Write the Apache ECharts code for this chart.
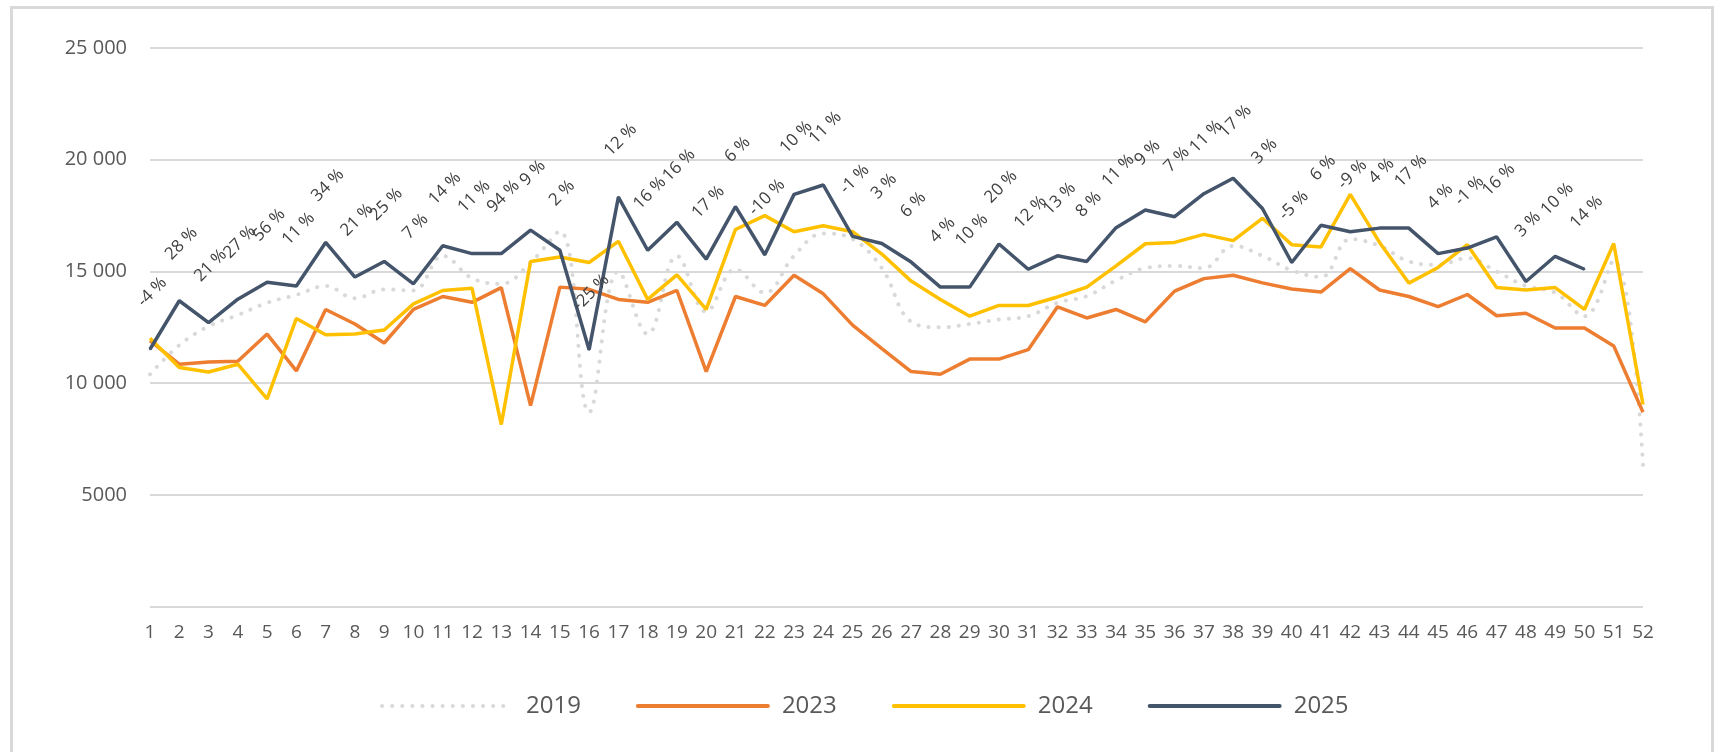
<!DOCTYPE html>
<html>
<head>
<meta charset="utf-8">
<script src="https://cdn.jsdelivr.net/npm/echarts@6/dist/echarts.min.js"></script>
<style>
  html, body { margin: 0; padding: 0; background: #ffffff; }
  #chart { width: 1717px; height: 752px; }
</style>
</head>
<body>
<div id="chart"></div>
<script>
// Week numbers on the category axis
const weeks = ['1','2','3','4','5','6','7','8','9','10','11','12','13','14','15','16','17','18','19','20',
  '21','22','23','24','25','26','27','28','29','30','31','32','33','34','35','36','37','38','39','40',
  '41','42','43','44','45','46','47','48','49','50','51','52'];

// Value-axis tick labels, from 0 up to 25 000
const yTickLabels = ['', '5000', '10 000', '15 000', '20 000', '25 000'];

// Weekly volumes per year
const s2019 = [10400, 11700, 12550, 13050, 13600, 13950, 14350, 13800, 14200, 14150,
  15700, 14700, 14450, 15400, 16800, 8700, 15000, 12200, 15700, 13200,
  15100, 14050, 15700, 16700, 16450, 15150, 12750, 12500, 12650, 12850,
  13000, 13600, 13900, 14600, 15150, 15250, 15150, 16150, 15700, 15050,
  14750, 16450, 16150, 15450, 15300, 15600, 15000, 14350, 14050, 13000,
  15500, 6350];

const s2023 = [11900, 10850, 10950, 10980, 12200, 10550, 13300, 12650, 11800, 13300,
  13880, 13620, 14280, 9000, 14300, 14200, 13750, 13620, 14150, 10520,
  13880, 13480, 14830, 14000, 12600, 11550, 10520, 10400, 11080, 11080,
  11500, 13420, 12920, 13300, 12750, 14120, 14680, 14830, 14490, 14220,
  14080, 15130, 14170, 13880, 13430, 13970, 13020, 13130, 12470, 12470,
  11670, 8700];

const s2024 = [12010, 10700, 10500, 10850, 9300, 12900, 12170, 12200, 12380, 13550,
  14150, 14250, 8150, 15450, 15650, 15400, 16350, 13750, 14850, 13300,
  16880, 17500, 16780, 17050, 16780, 15780, 14570, 13750, 13000, 13480,
  13480, 13860, 14300, 15250, 16240, 16300, 16660, 16380, 17380, 16200,
  16100, 18450, 16300, 14480, 15180, 16200, 14280, 14170, 14280, 13300,
  16250, 9050];

const s2025 = [11520, 13690, 12710, 13760, 14520, 14350, 16300, 14750, 15450, 14450,
  16150, 15800, 15800, 16850, 15950, 11500, 18330, 15950, 17200, 15550,
  17900, 15750, 18450, 18870, 16570, 16250, 15420, 14300, 14300, 16230,
  15100, 15700, 15450, 16960, 17750, 17450, 18480, 19170, 17820, 15400,
  17070, 16780, 16940, 16940, 15800, 16050, 16550, 14550, 15680, 15100,
  null, null];

// Change of 2025 against the same week of 2024
const changeLabels = ['-4 %','28 %','21 %','27 %','56 %','11 %','34 %','21 %','25 %','7 %',
  '14 %','11 %','94 %','9 %','2 %','-25 %','12 %','16 %','16 %','17 %',
  '6 %','-10 %','10 %','11 %','-1 %','3 %','6 %','4 %','10 %','20 %',
  '12 %','13 %','8 %','11 %','9 %','7 %','11 %','17 %','3 %','-5 %',
  '6 %','-9 %','4 %','17 %','4 %','-1 %','16 %','3 %','10 %','14 %'];

const FONT = "'Open Sans', 'Liberation Sans', sans-serif";
const C2019 = '#d9d9d9', C2023 = '#ed7d31', C2024 = '#ffc000', C2025 = '#44546a';

const chart = echarts.init(document.getElementById('chart'), null, { renderer: 'canvas' });

chart.setOption({
  animation: false,
  backgroundColor: '#ffffff',
  graphic: [{
    type: 'rect',
    left: 9, top: 5,
    shape: { width: 1701, height: 820 },
    style: { fill: 'none', stroke: '#d9d9d9', lineWidth: 3 },
    silent: true,
    z: -10
  }],
  grid: { left: 150, right: 74, top: 48, bottom: 145.3, containLabel: false },
  legend: {
    left: 375, top: 689,
    itemWidth: 130, itemHeight: 24, itemGap: 55,
    itemStyle: { opacity: 0 },
    lineStyle: { width: 4, cap: 'round' },
    textStyle: { fontSize: 24, color: '#595959', fontFamily: FONT, padding: [0, 0, 0, 9] },
    data: ['2019', '2023', '2024', '2025']
  },
  xAxis: {
    type: 'category',
    data: weeks,
    boundaryGap: false,
    axisLine: { show: false },
    axisTick: { show: false },
    splitLine: { show: false },
    axisLabel: { interval: 0, margin: 16, fontSize: 19, color: '#595959', fontFamily: FONT }
  },
  yAxis: {
    type: 'value',
    min: 0, max: 25000, interval: 5000,
    axisLine: { show: false },
    axisTick: { show: false },
    splitLine: { lineStyle: { color: '#d9d9d9', width: 2 } },
    axisLabel: {
      margin: 23, fontSize: 20, color: '#595959', fontFamily: FONT,
      formatter: v => yTickLabels[Math.round(v / 5000)]
    }
  },
  series: [
    {
      name: '2019', type: 'line', data: s2019,
      smooth: 0.4, symbol: 'none',
      lineStyle: { color: C2019, width: 4, type: [0.1, 10], cap: 'round' },
      itemStyle: { color: C2019 },
      z: 1
    },
    {
      name: '2023', type: 'line', data: s2023,
      symbol: 'none',
      lineStyle: { color: C2023, width: 3.5 },
      itemStyle: { color: C2023 },
      z: 2
    },
    {
      name: '2024', type: 'line', data: s2024,
      symbol: 'none',
      lineStyle: { color: C2024, width: 3.5 },
      itemStyle: { color: C2024 },
      z: 3
    },
    {
      name: '2025', type: 'line', data: s2025,
      symbol: 'circle', symbolSize: 2, showSymbol: true, showAllSymbol: true,
      lineStyle: { color: C2025, width: 3.5 },
      itemStyle: { color: C2025 },
      label: {
        show: true, position: 'top', distance: 54, rotate: 45, offset: [3, 0],
        align: 'center', verticalAlign: 'middle',
        fontSize: 17, color: '#404040', fontFamily: FONT,
        formatter: p => changeLabels[p.dataIndex] || ''
      },
      z: 4
    }
  ]
});
</script>
</body>
</html>
